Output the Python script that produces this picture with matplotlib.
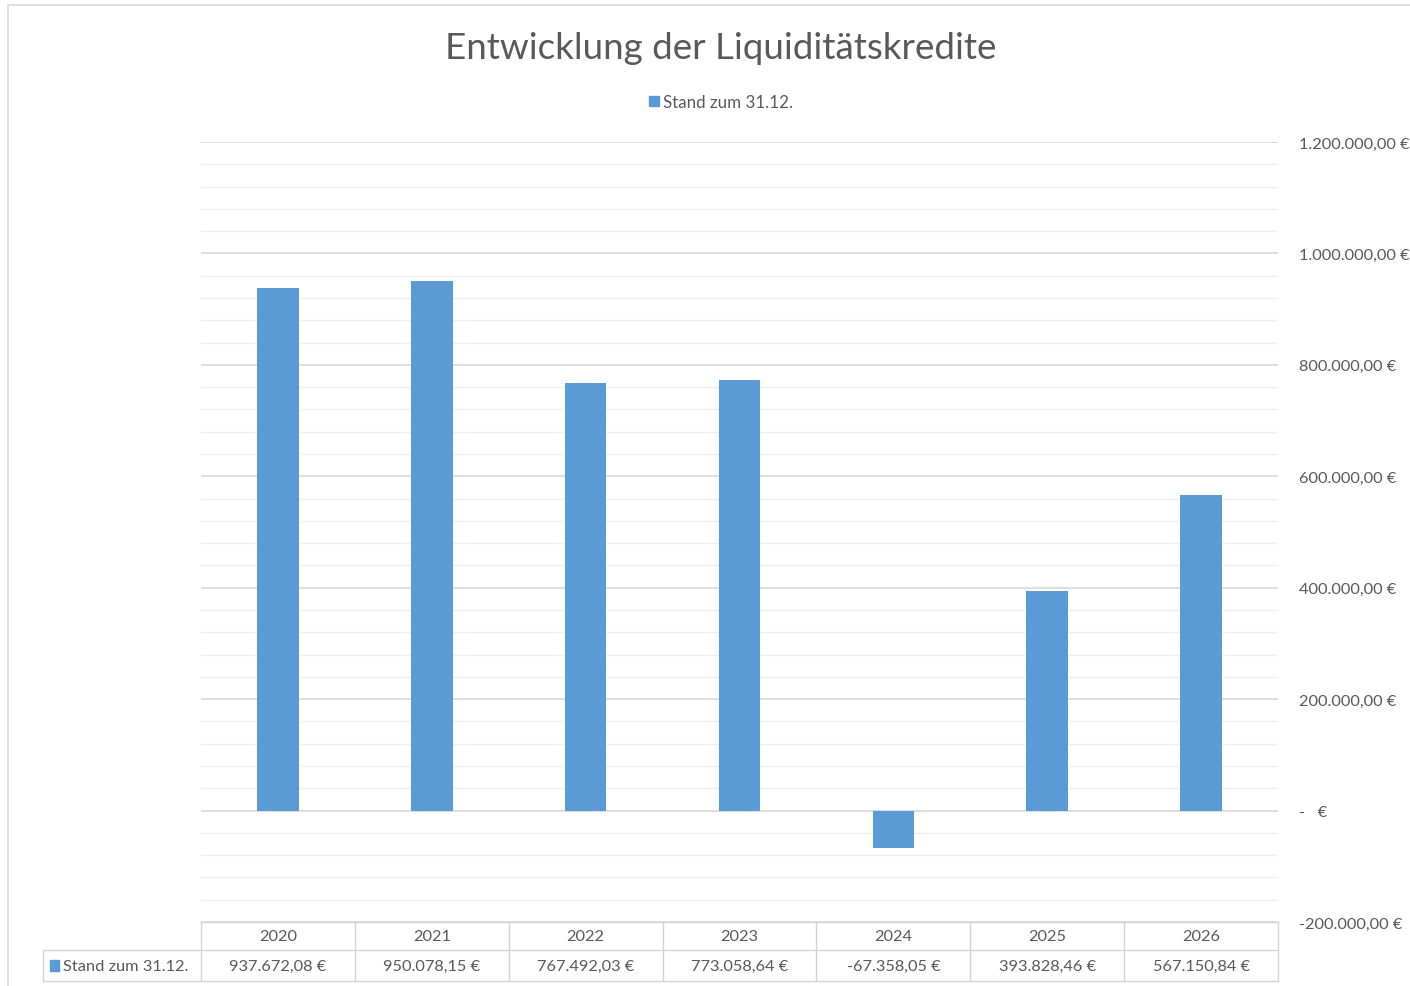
import numpy as np
import matplotlib.pyplot as plt
from matplotlib.patches import Rectangle
from matplotlib.lines import Line2D
from matplotlib.ticker import MultipleLocator, FuncFormatter

plt.rcParams['font.family'] = ['Lato', 'DejaVu Sans']

years = ['2020', '2021', '2022', '2023', '2024', '2025', '2026']
stand = [937672.08, 950078.15, 767492.03, 773058.64, -67358.05, 393828.46, 567150.84]
series_name = 'Stand zum 31.12.'

bar_color = '#5B9BD5'
text_color = '#595959'
grid_major = '#d9d9d9'
grid_minor = '#efefef'


def euro(v):
    if v == 0:
        return '-   €'
    s = f'{v:,.2f}'.replace(',', 'X').replace('.', ',').replace('X', '.')
    return s + ' €'


fig = plt.figure(figsize=(14.1, 9.87), dpi=100)
ax = fig.add_axes([0.1426, 0.0648, 0.7638, 0.7903])

x = np.arange(len(years))
ax.bar(x, stand, width=0.27, color=bar_color, zorder=3)

ax.set_xlim(-0.5, len(years) - 0.5)
ax.set_ylim(-200000, 1200000)
ax.yaxis.set_major_locator(MultipleLocator(200000))
ax.yaxis.set_minor_locator(MultipleLocator(40000))
ax.yaxis.tick_right()
ax.yaxis.set_major_formatter(FuncFormatter(lambda v, p: euro(v)))
ax.tick_params(axis='y', which='both', length=0, pad=15, labelsize=11.8, labelcolor=text_color)
ax.set_xticks([])
ax.grid(axis='y', which='major', color=grid_major, lw=1.2, zorder=0)
ax.grid(axis='y', which='minor', color=grid_minor, lw=1.0, zorder=0)
for sp in ax.spines.values():
    sp.set_visible(False)

# data table under the plot
tr = ax.get_xaxis_transform()
row1 = -0.0359
row2 = -0.0756
left_lbl = -1.53
n = len(years)
lc = '#d4d4d4'
for xv in np.arange(-0.5, n, 1.0):
    ax.add_line(Line2D([xv, xv], [0, row2], transform=tr, color=lc, lw=1, clip_on=False))
ax.add_line(Line2D([left_lbl, left_lbl], [row1, row2], transform=tr, color=lc, lw=1, clip_on=False))
ax.add_line(Line2D([-0.5, n - 0.5], [0, 0], transform=tr, color=lc, lw=1, clip_on=False))
ax.add_line(Line2D([left_lbl, n - 0.5], [row1, row1], transform=tr, color=lc, lw=1, clip_on=False))
ax.add_line(Line2D([left_lbl, n - 0.5], [row2, row2], transform=tr, color=lc, lw=1, clip_on=False))

for i, (yr, v) in enumerate(zip(years, stand)):
    ax.text(i, row1 / 2, yr, transform=tr, ha='center', va='center', fontsize=11.8, color=text_color)
    ax.text(i, (row1 + row2) / 2, euro(v), transform=tr, ha='center', va='center', fontsize=11.8,
            color=text_color)

ax.add_patch(Rectangle((left_lbl + 0.045, (row1 + row2) / 2 - 0.0075), 0.06, 0.015,
                       transform=tr, color=bar_color, clip_on=False))
ax.text(left_lbl + 0.13, (row1 + row2) / 2, series_name, transform=tr, ha='left', va='center',
        fontsize=11.8, color=text_color)

# title and legend
fig.text(0.511, 0.951, 'Entwicklung der Liquiditätskredite', ha='center', va='center',
         fontsize=26.5, color=text_color)
fig.patches.append(Rectangle((0.4605, 0.892), 0.0072, 0.0095, transform=fig.transFigure,
                             color=bar_color))
fig.text(0.4705, 0.8955, series_name, ha='left', va='center', fontsize=12.2, color=text_color)

# chart frame
fig.patches.append(Rectangle((8 / 1410, -0.05), 1.2, 1.05 - 6 / 987, transform=fig.transFigure,
                             fill=False, edgecolor='#d9d9d9', lw=1.2))

fig.savefig('out.png', dpi=100)
